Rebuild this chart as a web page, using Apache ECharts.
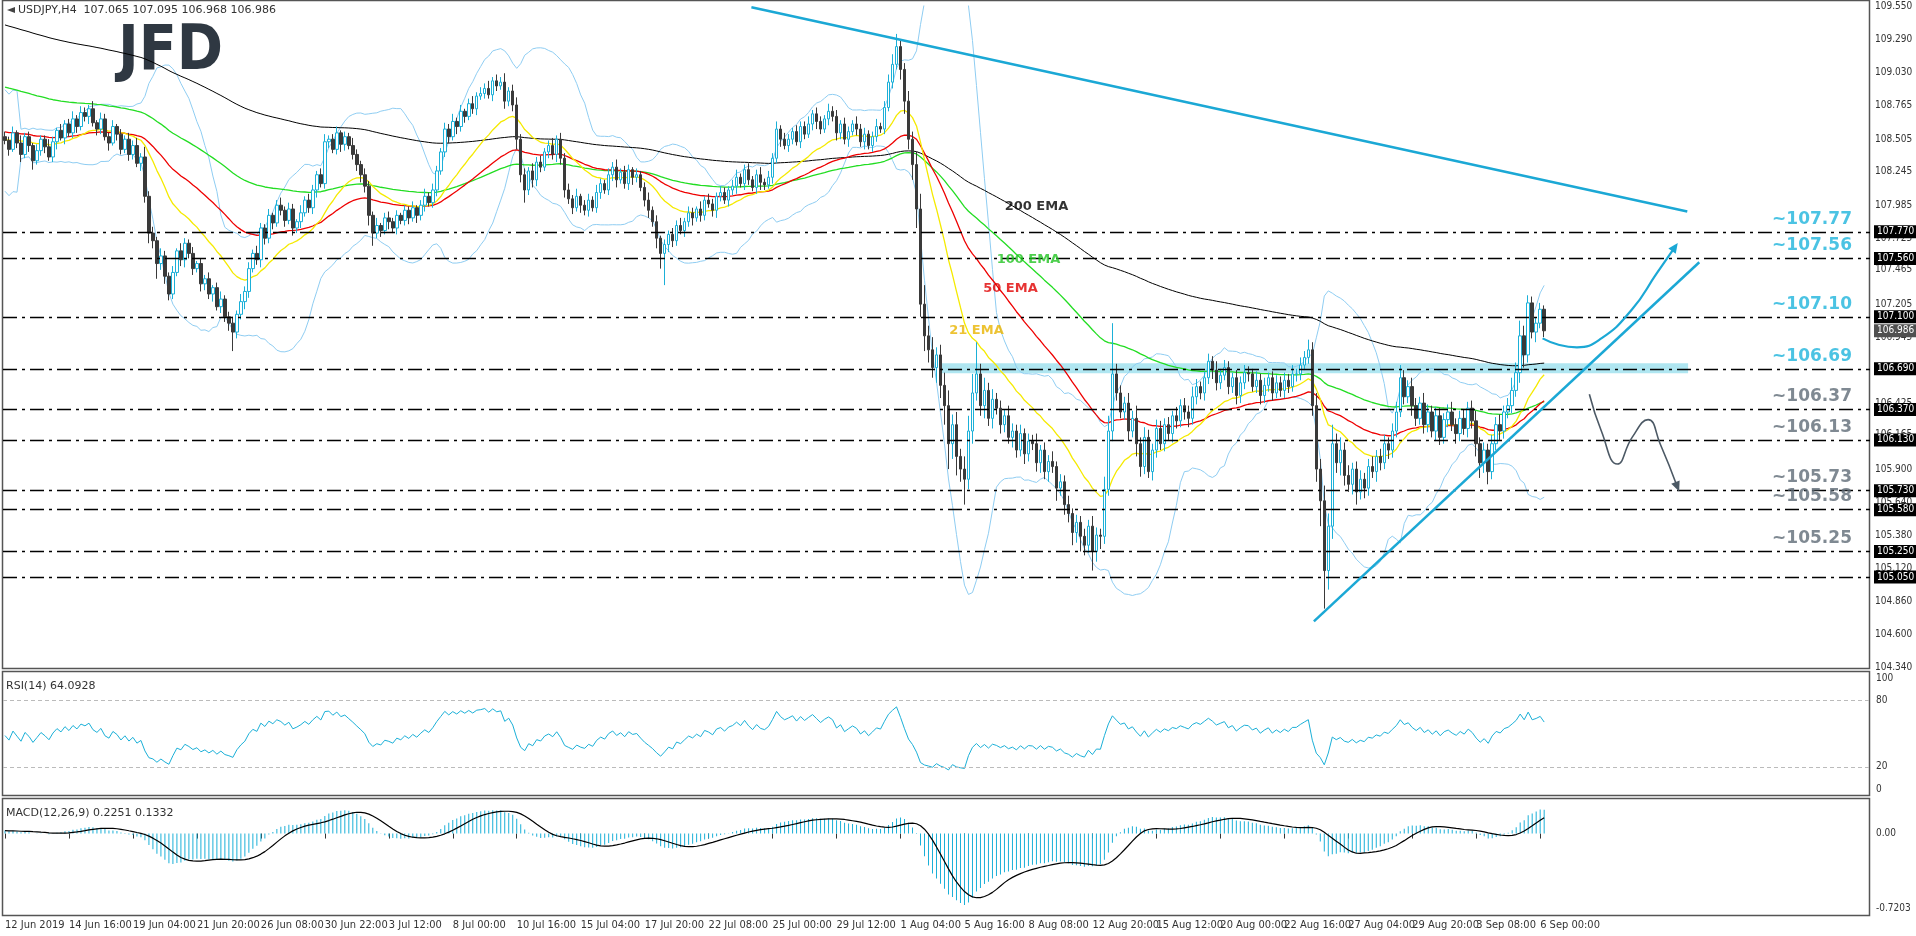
<!DOCTYPE html>
<html>
<head>
<meta charset="utf-8">
<script src="https://cdn.jsdelivr.net/npm/echarts@6/dist/echarts.min.js"></script>
<style>html,body{margin:0;padding:0;background:#fff}#chart{width:1916px;height:936px}</style>
</head>
<body>
<div id="chart"></div>
<script>
// H4 closes
var closes = [
108.49,108.42,108.55,108.47,108.38,108.52,108.45,108.33,108.41,108.50,
108.44,108.36,108.48,108.57,108.51,108.62,108.55,108.66,108.60,108.71,
108.68,108.74,108.63,108.58,108.66,108.52,108.47,108.60,108.54,108.42,
108.50,108.38,108.45,108.31,108.36,108.05,107.76,107.70,107.52,107.58,
107.42,107.28,107.45,107.62,107.55,107.68,107.60,107.48,107.52,107.36,
107.40,107.28,107.33,107.18,107.24,107.10,107.05,106.98,107.12,107.22,
107.30,107.48,107.60,107.55,107.80,107.72,107.90,107.84,107.98,107.94,
107.86,107.95,107.80,107.85,107.92,108.02,107.96,108.10,108.22,108.15,
108.48,108.50,108.42,108.55,108.46,108.52,108.45,108.38,108.30,108.22,
108.13,107.90,107.76,107.82,107.78,107.88,107.85,107.80,107.90,107.86,
107.94,107.88,107.96,107.90,107.98,108.05,108.00,108.10,108.25,108.40,
108.58,108.52,108.64,108.60,108.72,108.68,108.78,108.74,108.84,108.86,
108.90,108.85,108.96,108.92,108.95,108.80,108.88,108.77,108.50,108.22,
108.10,108.25,108.18,108.32,108.28,108.40,108.45,108.38,108.50,108.35,
108.10,108.03,107.96,108.05,107.98,107.94,108.02,107.96,108.08,108.15,
108.10,108.22,108.28,108.18,108.24,108.15,108.26,108.20,108.22,108.12,
108.02,107.94,107.85,107.72,107.60,107.67,107.75,107.70,107.82,107.78,
107.85,107.92,107.88,107.95,107.90,108.02,107.99,107.94,108.05,108.08,
108.02,108.10,108.13,108.20,108.15,108.26,108.18,108.12,108.22,108.16,
108.14,108.20,108.35,108.58,108.50,108.45,108.50,108.56,108.48,108.60,
108.54,108.62,108.70,108.64,108.58,108.66,108.72,108.68,108.55,108.62,
108.50,108.56,108.62,108.58,108.48,108.54,108.45,108.52,108.60,108.58,
108.75,108.95,109.09,109.23,109.05,108.80,108.50,108.30,107.95,107.20,
106.95,106.84,106.70,106.80,106.56,106.40,106.10,106.25,106.00,105.90,
105.82,106.20,106.50,106.65,106.40,106.52,106.30,106.45,106.38,106.25,
106.32,106.15,106.20,106.05,106.18,106.02,106.12,106.10,105.95,106.05,
105.88,105.96,105.92,105.75,105.80,105.62,105.55,105.40,105.48,105.37,
105.30,105.45,105.25,105.38,105.37,105.74,106.20,106.65,106.50,106.35,
106.42,106.20,106.30,106.10,105.92,106.15,105.88,106.05,106.22,106.10,
106.25,106.18,106.32,106.28,106.40,106.35,106.30,106.47,106.55,106.50,
106.62,106.75,106.68,106.58,106.64,106.70,106.55,106.62,106.48,106.58,
106.66,106.65,106.55,106.60,106.48,106.56,106.62,106.50,106.58,106.52,
106.60,106.55,106.65,106.65,106.72,106.78,106.84,106.40,105.90,105.65,
105.10,105.45,106.10,105.95,106.05,105.85,105.78,105.90,105.72,105.82,
105.75,105.92,105.88,106.00,105.95,106.10,106.05,106.20,106.35,106.62,
106.47,106.55,106.40,106.30,106.42,106.25,106.35,106.20,106.32,106.15,
106.29,106.35,106.25,106.18,106.30,106.22,106.38,106.28,106.10,105.95,
106.05,105.88,106.10,106.25,106.20,106.35,106.40,106.52,106.66,106.95,
106.80,107.21,106.98,107.05,107.16,106.99
];
var firstOpen = 108.52;
// wick lengths in pips (0.01)
var upWick = [
4,3,5,2,6,3,4,2,5,3, 3,6,4,2,5,3,4,6,3,5, 4,3,6,2,5,4,3,5,2,4, 3,5,4,6,3,8,4,5,3,6,
4,3,5,2,6,4,3,5,2,4, 3,5,2,4,6,3,4,5,3,6, 4,5,3,6,4,3,5,2,4,6, 3,5,4,2,6,3,5,4,3,5,
6,3,4,5,2,4,3,6,4,3, 5,4,3,6,2,4,5,3,4,2, 4,3,5,2,4,6,3,5,4,3, 5,4,6,3,5,2,4,6,3,5,
4,6,3,5,4,7,3,5,6,4, 5,3,6,4,5,3,4,6,3,5, 4,5,3,6,2,4,5,3,6,4, 3,5,4,6,3,5,4,2,5,3,
4,6,3,5,2,4,3,5,4,6, 3,5,4,2,6,3,5,4,3,5, 4,3,5,6,3,4,5,3,4,6, 3,5,4,6,3,5,4,3,5,4,
4,6,3,5,4,3,6,4,5,3, 5,4,3,6,4,5,3,4,6,3, 5,6,8,10,6,5,8,6,10,12, 15,8,10,6,8,10,12,8,10,6,
10,12,15,25,8,10,6,8,5,6, 5,8,6,5,7,4,6,5,8,4, 6,5,8,4,6,5,7,4,6,5, 6,5,8,6,5,10,12,40,8,6,
5,8,6,10,5,8,6,5,7,6, 5,6,4,7,5,6,5,8,6,4, 5,6,4,7,5,6,5,4,6,5, 6,5,4,7,5,6,4,5,6,5,
6,5,7,4,6,5,8,6,10,8, 12,10,15,8,10,6,8,5,6,7, 5,6,8,5,6,7,5,6,8,10, 6,5,7,6,5,8,6,5,7,6,
5,6,8,5,6,7,5,6,8,5, 6,5,7,6,8,5,6,10,8,12, 8,6,5,4,5,3
];
var dnWick = [
3,5,2,4,6,3,5,7,3,4, 5,3,4,6,2,5,3,4,5,3, 4,6,3,5,4,3,6,2,5,4, 3,5,4,3,6,5,8,6,12,5,
6,5,4,3,5,6,4,5,3,6, 5,4,6,3,5,4,6,15,5,4, 6,5,3,4,6,5,4,5,3,4, 5,3,6,4,5,3,4,5,6,3,
4,5,3,4,6,5,3,4,5,6, 5,8,10,4,5,3,6,4,5,3, 4,5,3,6,4,5,3,4,5,3, 4,5,3,6,4,5,3,4,5,3,
4,3,5,4,3,6,4,5,8,6, 10,4,6,5,4,3,5,4,6,5, 6,4,5,3,6,4,5,3,4,5, 3,4,5,6,3,4,5,6,4,3,
5,6,4,8,12,25,6,5,4,3, 5,4,6,3,5,4,3,5,6,4, 3,5,4,6,3,5,4,3,5,6, 4,3,5,4,6,3,5,4,3,5,
4,3,5,6,4,3,5,4,6,5, 4,6,3,5,4,6,3,5,4,3, 4,3,5,4,8,10,8,12,15,10, 12,10,8,12,10,15,20,12,15,10,
20,8,10,6,8,10,6,8,5,7, 6,5,8,6,5,8,6,5,7,8, 6,8,5,10,6,8,7,10,8,12, 8,6,15,8,10,6,5,8,6,5,
6,8,5,10,8,6,5,7,6,5, 6,5,7,6,5,6,7,5,6,5, 6,5,7,6,5,4,6,5,7,6, 5,6,4,5,7,6,5,6,4,5,
6,5,4,6,5,4,5,8,10,20, 30,15,10,8,10,8,6,8,10,6, 8,6,5,8,6,5,7,6,5,4, 6,5,8,6,5,7,6,5,8,6,
5,6,5,8,6,5,7,6,10,12, 8,10,6,5,7,6,5,6,5,8, 10,6,5,8,4,5
];
var timeLabels = ['12 Jun 2019','14 Jun 16:00','19 Jun 04:00','21 Jun 20:00','26 Jun 08:00','30 Jun 22:00',
  '3 Jul 12:00','8 Jul 00:00','10 Jul 16:00','15 Jul 04:00','17 Jul 20:00','22 Jul 08:00','25 Jul 00:00',
  '29 Jul 12:00','1 Aug 04:00','5 Aug 16:00','8 Aug 08:00','12 Aug 20:00','15 Aug 12:00','20 Aug 00:00',
  '22 Aug 16:00','27 Aug 04:00','29 Aug 20:00','3 Sep 08:00','6 Sep 00:00'];
var priceTicks = [109.550,109.290,109.030,108.765,108.505,108.245,107.985,107.725,107.465,107.205,
  106.945,106.685,106.425,106.165,105.900,105.640,105.380,105.120,104.860,104.600,104.340];
var levelsUp = [107.77,107.56,107.10,106.69];
var levelsDown = [106.37,106.13,105.73,105.58,105.25,105.05];
var levelNotes = [107.77,107.56,107.10,106.69,106.37,106.13,105.73,105.58,105.25];
var lastPrice = 106.986;
// indicator seeds (values already running at the left edge of the picture)
var emaSeeds = {21:108.50, 50:108.56, 100:108.92, 200:109.41};
var macdSeeds = [108.48, 108.45];
// drawings, [bar, price]
var downTrend = [[186.7,109.54],[420.8,107.93]];
var upTrend = [[327.4,104.70],[423.8,107.53]];
var band = [234, 421, 106.655, 106.735];
var cyanArrow = [[384.6,106.93],[388.6,106.88],[393.2,106.86],[399.3,106.93],[407,107.16],[413.1,107.44],[417.7,107.65]];
var grayArrow = [[396.3,106.49],[399.3,106.2],[403.3,105.94],[407,106.15],[411,106.29],[414,106.1],[418.3,105.76]];
var emaTags = [['200 EMA',258,107.97,'#000'],['100 EMA',256,107.55,'#22c322'],['50 EMA',251.5,107.32,'#e00000'],['21 EMA',243,106.99,'#e8b400']];

var TOTAL = 467;
var cats = [];
for (var i = 0; i < TOTAL; i++) cats.push(String(i));

var candles = closes.map(function (c, i) {
    var o = i ? closes[i - 1] : firstOpen;
    return [o, c, +(Math.min(o, c) - dnWick[i] / 100).toFixed(3), +(Math.max(o, c) + upWick[i] / 100).toFixed(3)];
});
function ema(src, n, seed) {
    var k = 2 / (n + 1), e = seed;
    return src.map(function (v) { e = e + k * (v - e); return +e.toFixed(4); });
}
var bbUp = [], bbDn = [];
closes.forEach(function (c, i) {
    var w = closes.slice(Math.max(0, i - 19), i + 1);
    var m = w.reduce(function (a, b) { return a + b; }, 0) / w.length;
    var sd = Math.sqrt(w.reduce(function (a, b) { return a + (b - m) * (b - m); }, 0) / w.length);
    if (w.length < 5) sd = Math.max(sd, 0.2);
    bbUp.push(+(m + 2 * sd).toFixed(4));
    bbDn.push(+(m - 2 * sd).toFixed(4));
});
var rsi = [], ag = 0.03, al = 0.03;
closes.forEach(function (c, i) {
    var d = c - (i ? closes[i - 1] : firstOpen);
    ag = (ag * 13 + Math.max(d, 0)) / 14;
    al = (al * 13 + Math.max(-d, 0)) / 14;
    rsi.push(+(100 - 100 / (1 + ag / al)).toFixed(2));
});
var e12 = ema(closes, 12, macdSeeds[0]), e26 = ema(closes, 26, macdSeeds[1]);
var macd = e12.map(function (v, i) { return +(v - e26[i]).toFixed(4); });
var signal = macd.map(function (v, i) {
    var w = macd.slice(Math.max(0, i - 8), i + 1);
    return +(w.reduce(function (a, b) { return a + b; }, 0) / w.length).toFixed(4);
});

var tagFont = {fontSize: 10, fontFamily: 'DejaVu Sans Condensed'};
var hidden = {color: 'rgba(0,0,0,0)', width: 0};
var dash = [14, 5, 3, 5];
var mlData = [];
priceTicks.forEach(function (v) {
    mlData.push({yAxis: v, lineStyle: hidden,
        label: Object.assign({show: true, position: 'end', distance: 5, formatter: v.toFixed(3), color: '#333'}, tagFont)});
});
levelsUp.concat(levelsDown).forEach(function (v) {
    mlData.push({yAxis: v, lineStyle: {color: '#000', type: dash, width: 1.3},
        label: Object.assign({show: true, position: 'end', distance: 4, formatter: v.toFixed(3), color: '#fff',
            backgroundColor: '#000', padding: [2, 3, 1, 3]}, tagFont)});
});
mlData.push({yAxis: lastPrice, lineStyle: hidden,
    label: Object.assign({show: true, position: 'end', distance: 4, formatter: lastPrice.toFixed(3), color: '#fff',
        backgroundColor: '#505050', padding: [2, 3, 1, 3]}, tagFont)});

var levelTexts = levelNotes.map(function (v, i) {
    return {value: [452, v + 0.1], c: i < 4 ? '#1eb4dc' : '#5f6b77', t: '~' + v.toFixed(2)};
});

function arrowLine(pts, color) {
    return pts.map(function (p, i) {
        if (i < pts.length - 1) return {value: p, symbol: 'none'};
        var q = pts[i - 1];
        var ang = Math.atan2((p[1] - q[1]) * 126.9, (p[0] - q[0]) * 4) * 180 / Math.PI;
        return {value: p, symbol: 'triangle', symbolSize: [9, 10], symbolRotate: ang - 90, itemStyle: {color: color}};
    });
}

var axisFont = {fontFamily: 'DejaVu Sans Condensed', fontSize: 10, color: '#333'};
var chart = echarts.init(document.getElementById('chart'));
chart.setOption({
    animation: false,
    backgroundColor: '#fff',
    grid: [
        {left: 3, right: 46, top: 6, height: 661},
        {left: 3, right: 46, top: 678, height: 111},
        {left: 3, right: 46, top: 805, height: 103}
    ],
    xAxis: [
        {type: 'category', data: cats, gridIndex: 0, show: false},
        {type: 'value', gridIndex: 0, min: -0.5, max: TOTAL - 0.5, show: false},
        {type: 'category', data: cats, gridIndex: 1, show: false},
        {type: 'category', data: cats, gridIndex: 2, position: 'bottom', offset: 8,
            axisLine: {show: false},
            axisTick: {show: true, alignWithLabel: true, length: 5, lineStyle: {color: '#333'},
                interval: function (i) { return i % 16 === 0 && i / 16 < timeLabels.length; }},
            axisLabel: {align: 'left', margin: 4, fontFamily: 'DejaVu Sans Condensed', fontSize: 11, color: '#333',
                interval: function (i) { return i % 16 === 0 && i / 16 < timeLabels.length; },
                formatter: function (v, i) { return timeLabels[i / 16] || ''; }}}
    ],
    yAxis: [
        {gridIndex: 0, position: 'right', min: 104.34, max: 109.55, splitLine: {show: false},
            axisLabel: {show: false}, axisTick: {show: false}, axisLine: {show: false}},
        {gridIndex: 1, position: 'right', min: 0, max: 100, interval: 20, splitLine: {show: false},
            axisLine: {show: false}, axisTick: {show: false},
            axisLabel: Object.assign({margin: 6, formatter: function (v) { return (v === 40 || v === 60) ? '' : v; }}, axisFont)},
        {gridIndex: 2, position: 'right', min: -0.7203, max: 0.2763, splitLine: {show: false},
            axisLabel: {show: false}, axisTick: {show: false}, axisLine: {show: false}}
    ],
    series: [
        {type: 'line', data: bbUp, symbol: 'none', lineStyle: {color: '#8fcdf2', width: 1}, z: 1},
        {type: 'line', data: bbDn, symbol: 'none', lineStyle: {color: '#8fcdf2', width: 1}, z: 1},
        {type: 'line', data: ema(closes, 200, emaSeeds[200]), symbol: 'none', lineStyle: {color: '#000', width: 1}, z: 2},
        {type: 'line', data: ema(closes, 100, emaSeeds[100]), symbol: 'none', lineStyle: {color: '#22dd22', width: 1.3}, z: 2},
        {type: 'line', data: ema(closes, 50, emaSeeds[50]), symbol: 'none', lineStyle: {color: '#ee0000', width: 1.3}, z: 2},
        {type: 'line', data: ema(closes, 21, emaSeeds[21]), symbol: 'none', lineStyle: {color: '#f5ea00', width: 1.3}, z: 2},
        {type: 'candlestick', data: candles, barWidth: 3, z: 3,
            itemStyle: {color: '#fff', borderColor: '#1bb0d8', color0: '#3a3a3a', borderColor0: '#3a3a3a', borderWidth: 1},
            markLine: {silent: true, symbol: 'none', animation: false, data: mlData},
            markArea: {silent: true, itemStyle: {color: 'rgba(110,210,230,0.55)'},
                data: [[{xAxis: band[0], yAxis: band[2]}, {xAxis: band[1], yAxis: band[3]}]]}},
        {type: 'line', xAxisIndex: 1, data: arrowLine(cyanArrow, '#1ba8d5'), smooth: true, lineStyle: {color: '#1ba8d5', width: 2.2}, z: 5,
            markLine: {silent: true, symbol: 'none', animation: false, label: {show: false},
                lineStyle: {color: '#1ba8d5', width: 2.5, type: 'solid'},
                data: [[{coord: downTrend[0]}, {coord: downTrend[1]}], [{coord: upTrend[0]}, {coord: upTrend[1]}]]}},
        {type: 'line', xAxisIndex: 1, data: arrowLine(grayArrow, '#4c5965'), smooth: true, lineStyle: {color: '#4c5965', width: 1.6}, z: 5},
        {type: 'scatter', xAxisIndex: 1, symbolSize: 0, z: 6,
            data: emaTags.map(function (t) { return {value: [t[1], t[2]], label: {formatter: t[0], color: t[3]}}; }),
            label: {show: true, position: 'inside', fontFamily: 'DejaVu Sans', fontSize: 13, fontWeight: 'bold'}},
        {type: 'scatter', xAxisIndex: 1, symbolSize: 0, z: 6,
            data: levelTexts.map(function (t) { return {value: t.value, label: {formatter: t.t, color: t.c}}; }),
            label: {show: true, position: 'inside', fontFamily: 'DejaVu Sans', fontSize: 17, fontWeight: 'bold'}},
        {type: 'line', xAxisIndex: 2, yAxisIndex: 1, data: rsi, symbol: 'none', lineStyle: {color: '#1bb0d8', width: 1},
            markLine: {silent: true, symbol: 'none', lineStyle: {color: '#bbb', type: [4, 3], width: 1}, label: {show: false},
                data: [{yAxis: 80}, {yAxis: 20}]}},
        {type: 'bar', xAxisIndex: 3, yAxisIndex: 2, data: macd, barWidth: 1, itemStyle: {color: '#1bb0d8'},
            markLine: {silent: true, symbol: 'none', lineStyle: hidden,
                label: Object.assign({position: 'end', distance: 6}, axisFont),
                data: [{yAxis: 0.2763, label: {formatter: '0.2763'}}, {yAxis: 0, label: {formatter: '0.00'}},
                    {yAxis: -0.7203, label: {formatter: '-0.7203'}}]}},
        {type: 'line', xAxisIndex: 3, yAxisIndex: 2, data: signal, symbol: 'none', lineStyle: {color: '#000', width: 1.2}}
    ],
    graphic: [
        {type: 'rect', shape: {x: 2.5, y: 0.5, width: 1867, height: 668}, style: {fill: 'none', stroke: '#555', lineWidth: 1.5}},
        {type: 'rect', shape: {x: 2.5, y: 671.5, width: 1867, height: 124}, style: {fill: 'none', stroke: '#555', lineWidth: 1.5}},
        {type: 'rect', shape: {x: 2.5, y: 798.5, width: 1867, height: 117}, style: {fill: 'none', stroke: '#555', lineWidth: 1.5}},
        {type: 'text', left: 18, top: 5, style: {text: 'USDJPY,H4  107.065 107.095 106.968 106.986', font: '11px DejaVu Sans', fill: '#333'}},
        {type: 'polygon', shape: {points: [[7, 10], [15, 7], [15, 13]]}, style: {fill: '#444'}},
        {type: 'text', left: 118, top: 22, style: {text: 'JFD', font: 'bold 62px "DejaVu Sans Condensed"', fill: '#2f3842'}},
        {type: 'text', left: 6, top: 681, style: {text: 'RSI(14) 64.0928', font: '11px DejaVu Sans', fill: '#333'}},
        {type: 'text', left: 6, top: 808, style: {text: 'MACD(12,26,9) 0.2251 0.1332', font: '11px DejaVu Sans', fill: '#333'}}
    ]
});
</script>
</body>
</html>
